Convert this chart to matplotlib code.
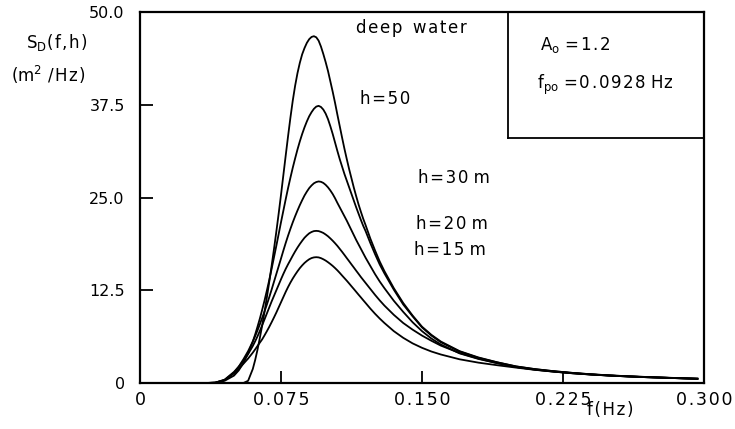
import matplotlib
matplotlib.use("Agg")
import matplotlib.pyplot as plt

# frequency grid (Hz) and spectral densities (m^2/Hz)
freq = [0.030, 0.035, 0.040, 0.045, 0.050, 0.0525, 0.055, 0.0575,
        0.060, 0.06125, 0.0625, 0.06375, 0.065, 0.06625, 0.0675, 0.06875,
        0.070, 0.07125, 0.0725, 0.07375, 0.075, 0.07625, 0.0775, 0.07875,
        0.080, 0.08125, 0.0825, 0.08375, 0.085, 0.08625, 0.0875, 0.08875,
        0.090, 0.09125, 0.0925, 0.09375, 0.095, 0.09625, 0.0975, 0.09875,
        0.100, 0.10125, 0.1025, 0.10375, 0.105, 0.10625, 0.1075, 0.10875,
        0.110, 0.11125, 0.1125, 0.11375, 0.115, 0.11625, 0.1175, 0.11875,
        0.120, 0.1225, 0.125, 0.1275, 0.130, 0.135, 0.140, 0.145,
        0.150, 0.155, 0.160, 0.170, 0.180, 0.190, 0.200, 0.210,
        0.220, 0.230, 0.240, 0.250, 0.260, 0.270, 0.280, 0.290, 0.2965]

s_deep = [0, 0, 0, 0, 0, 0, 0, 0.3,
          1.9, 3.1, 4.5, 6.1, 7.8, 9.65, 11.6, 13.65,
          15.8, 18.05, 20.4, 22.85, 25.4, 28.05, 30.7, 33.3,
          35.8, 38.1, 40.1, 41.8, 43.2, 44.35, 45.2, 45.9,
          46.4, 46.7, 46.8, 46.65, 46.2, 45.4, 44.4, 43.3,
          42.1, 40.7, 39.3, 37.8, 36.2, 34.65, 33.1, 31.6,
          30.2, 28.85, 27.6, 26.35, 25.2, 24.1, 23.1, 22.15,
          21.3, 19.5, 17.9, 16.4, 15.1, 12.8, 10.8, 9.1,
          7.6, 6.5, 5.6, 4.3, 3.45, 2.8, 2.25, 1.88,
          1.6, 1.37, 1.18, 1.03, 0.91, 0.81, 0.72, 0.64, 0.59]

s_h50 = [0, 0, 0.03, 0.3, 1.0, 1.7, 2.7, 4.0,
         5.6, 6.55, 7.6, 8.7, 9.9, 11.15, 12.5, 13.9,
         15.4, 16.95, 18.5, 20.1, 21.7, 23.25, 24.8, 26.3,
         27.7, 29.05, 30.3, 31.5, 32.6, 33.6, 34.5, 35.3,
         36.0, 36.55, 37.0, 37.3, 37.4, 37.25, 36.9, 36.35,
         35.6, 34.65, 33.6, 32.45, 31.3, 30.2, 29.2, 28.2,
         27.3, 26.4, 25.5, 24.6, 23.7, 22.85, 22.0, 21.2,
         20.5, 18.9, 17.4, 16.0, 14.8, 12.6, 10.6, 9.0,
         7.5, 6.4, 5.5, 4.25, 3.4, 2.78, 2.23, 1.87,
         1.59, 1.36, 1.17, 1.02, 0.90, 0.80, 0.71, 0.63, 0.58]

s_h30 = [0, 0, 0.05, 0.4, 1.4, 2.2, 3.2, 4.3,
         5.6, 6.33, 7.1, 7.93, 8.8, 9.68, 10.6, 11.58,
         12.6, 13.65, 14.7, 15.75, 16.8, 17.87, 18.9, 19.88,
         20.8, 21.68, 22.5, 23.27, 24.0, 24.67, 25.3, 25.83,
         26.3, 26.66, 26.95, 27.12, 27.2, 27.15, 27.0, 26.74,
         26.4, 25.98, 25.5, 24.93, 24.3, 23.7, 23.1, 22.5,
         21.9, 21.25, 20.6, 19.95, 19.3, 18.7, 18.1, 17.5,
         16.9, 15.8, 14.7, 13.7, 12.8, 11.1, 9.6, 8.2,
         7.0, 6.0, 5.2, 4.0, 3.25, 2.68, 2.16, 1.82,
         1.55, 1.33, 1.15, 1.00, 0.88, 0.78, 0.70, 0.62, 0.57]

s_h20 = [0, 0, 0.05, 0.45, 1.5, 2.2, 3.0, 3.9,
         5.0, 5.63, 6.3, 7.03, 7.8, 8.6, 9.4, 10.2,
         11.0, 11.75, 12.5, 13.25, 14.0, 14.72, 15.4, 16.02,
         16.6, 17.19, 17.75, 18.27, 18.75, 19.19, 19.6, 19.92,
         20.2, 20.38, 20.5, 20.53, 20.5, 20.39, 20.25, 20.04,
         19.8, 19.51, 19.2, 18.86, 18.5, 18.1, 17.7, 17.28,
         16.85, 16.43, 16.0, 15.58, 15.15, 14.73, 14.3, 13.9,
         13.5, 12.7, 11.9, 11.15, 10.45, 9.2, 8.1, 7.2,
         6.4, 5.7, 5.05, 4.05, 3.3, 2.68, 2.16, 1.80,
         1.54, 1.32, 1.14, 1.00, 0.88, 0.78, 0.70, 0.62, 0.57]

s_h15 = [0, 0, 0.05, 0.4, 1.3, 1.9, 2.6, 3.3,
         4.1, 4.54, 5.0, 5.45, 5.9, 6.44, 7.0, 7.58,
         8.2, 8.84, 9.5, 10.2, 10.9, 11.6, 12.3, 12.95,
         13.55, 14.1, 14.6, 15.07, 15.5, 15.87, 16.2, 16.47,
         16.7, 16.86, 16.95, 16.98, 16.95, 16.85, 16.7, 16.52,
         16.3, 16.06, 15.8, 15.51, 15.2, 14.86, 14.5, 14.15,
         13.8, 13.43, 13.05, 12.68, 12.3, 11.92, 11.55, 11.17,
         10.8, 10.05, 9.35, 8.7, 8.1, 7.0, 6.1, 5.35,
         4.75, 4.25, 3.85, 3.2, 2.75, 2.4, 2.08, 1.78,
         1.53, 1.31, 1.14, 1.00, 0.88, 0.78, 0.70, 0.62, 0.57]

curves = [s_deep, s_h50, s_h30, s_h20, s_h15]

x_ticks = [0, 0.075, 0.150, 0.225, 0.300]
x_labels = ["0", "0.075", "0.150", "0.225", "0.300"]
y_ticks = [0, 12.5, 25.0, 37.5, 50.0]
y_labels = ["0", "12.5", "25.0", "37.5", "50.0"]

HS = "\u200a"  # hair space, imitates the loose letter spacing of the original


def spaced(t):
    return HS.join(t)


fig = plt.figure(figsize=(7.35, 4.29), dpi=100)
ax = fig.add_axes([0.1905, 0.1072, 0.7673, 0.8637])

for s in curves:
    ax.plot(freq, s, color="black", lw=1.3, solid_joinstyle="round")

ax.set_xlim(0, 0.3)
ax.set_ylim(0, 50)
ax.set_xticks(x_ticks)
ax.set_xticklabels([spaced(t) for t in x_labels], fontsize=12.5)
ax.set_yticks(y_ticks)
ax.set_yticklabels(y_labels, fontsize=11.5)
ax.tick_params(direction="in", length=9, width=1.3, colors="black")
ax.tick_params(axis="x", pad=6)
ax.tick_params(axis="y", pad=11)
for sp in ax.spines.values():
    sp.set_linewidth(1.6)

# parameter box in the upper right corner
box_x, box_y = 0.1957, 33.0
ax.plot([box_x, box_x], [box_y, 50], color="black", lw=1.3)
ax.plot([box_x, 0.3], [box_y, box_y], color="black", lw=1.3)

fs = 12
ax.text(0.2128, 45.6, r"A$_\mathrm{o}$ " + spaced("=1.2"), fontsize=fs, va="center", ha="left")
ax.text(0.2112, 40.2, r"f$_\mathrm{po}$ " + spaced("=0.0928") + " Hz", fontsize=fs,
        va="center", ha="left")

# curve labels
ax.text(0.1441, 47.9, spaced("deep") + "  " + spaced("water"), fontsize=fs,
        ha="center", va="center")
ax.text(0.1303, 38.3, spaced("h=50"), fontsize=fs, ha="center", va="center")
ax.text(0.167, 27.7, spaced("h=30") + " m", fontsize=fs, ha="center", va="center")
ax.text(0.166, 21.5, spaced("h=20") + " m", fontsize=fs, ha="center", va="center")
ax.text(0.165, 17.9, spaced("h=15") + " m", fontsize=fs, ha="center", va="center")

# axis titles
ax.text(-0.0441, 45.9, r"S$_\mathrm{D}$" + spaced("(f,h)"), fontsize=fs,
        ha="center", va="center", clip_on=False)
ax.text(-0.0489, 41.6, r"(m$^2$ " + spaced("/Hz)"), fontsize=fs,
        ha="center", va="center", clip_on=False)
ax.text(0.250, -3.6, spaced("f(Hz)"), fontsize=fs, ha="center", va="center", clip_on=False)

fig.savefig("out.png", dpi=100)
